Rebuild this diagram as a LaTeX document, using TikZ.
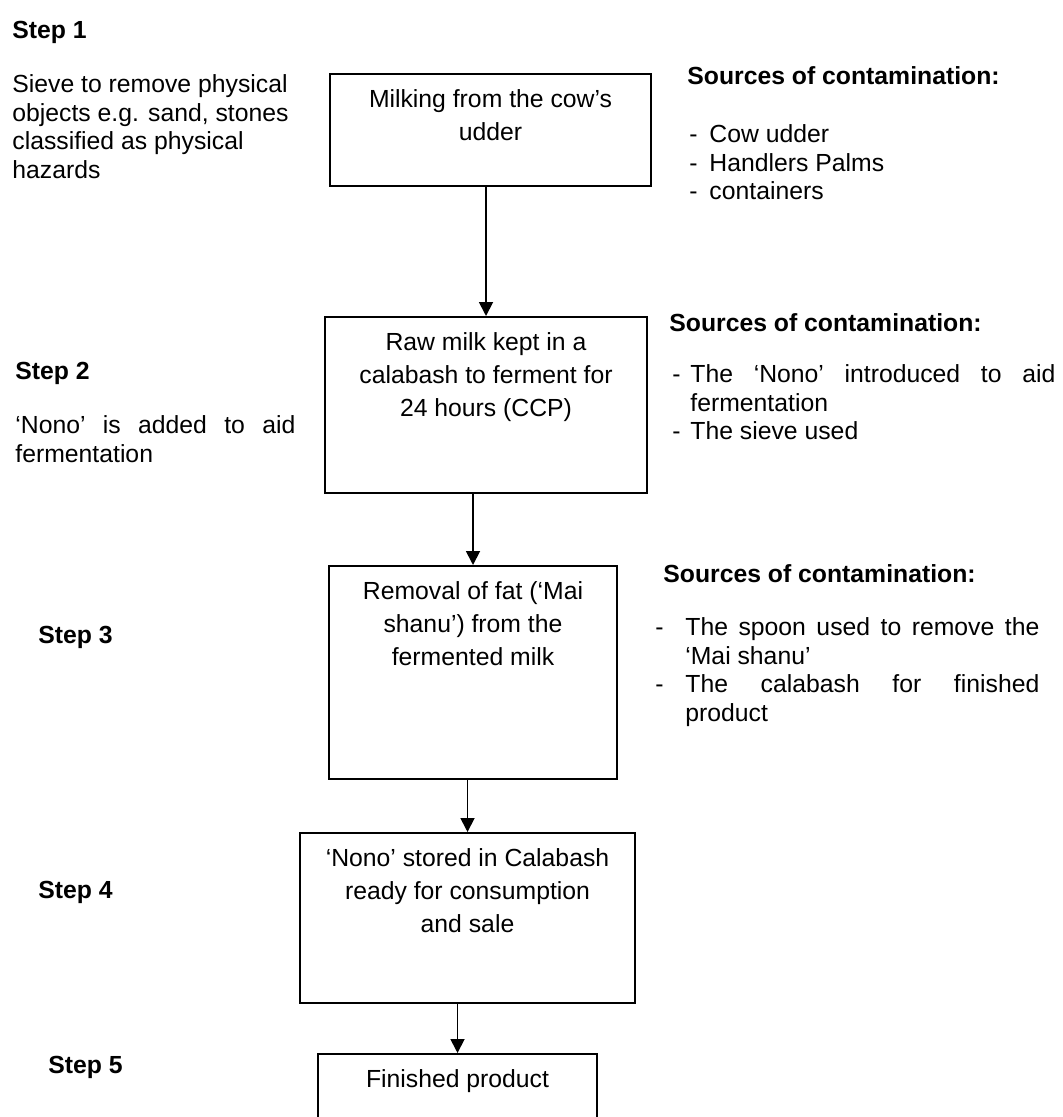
\documentclass[tikz,border=0pt]{standalone}
\usepackage{fontspec}
\setmainfont{Liberation Sans}
\usetikzlibrary{arrows.meta}

\begin{document}
\begin{tikzpicture}[x=0.4444pt, y=-0.4444pt, >={Triangle[length=6.2pt, width=6.2pt]},
        every node/.style={inner sep=0pt, font=\fontsize{11}{12.8}\selectfont},
        stage/.style={draw, line width=0.9pt, anchor=north west},
        stagetext/.style={anchor=north, yshift=-4.84pt, align=center, font=\fontsize{11}{14.67}\selectfont},
        steplabel/.style={anchor=base west, font=\fontsize{11}{12.8}\selectfont\bfseries},
        note/.style={anchor=north west, align=left},
        flow/.style={->, line width=0.8pt}]
        % ==== DEFINITIONS ====
        \def\pxu{0.4444pt} % one pixel of the page

        \useasboundingbox (0,0) rectangle (1062,1117);
        \clip (0,0) rectangle (1062,1117);

        % ==== STEP 1 ====
        \node[steplabel] (step1) at (12,38) {Step 1};
        \node[note] (step1txt) at (12,71.7) {\strut Sieve to remove physical\\objects e.g. sand, stones\\classified as physical\\hazards};
        \node[stage, minimum width=321*\pxu, minimum height=112*\pxu] (box1) at (329,73) {};
        \node[stagetext] (box1txt) at (box1.north) {\strut Milking from the cow's\\udder};
        \node[steplabel] (src1head) at (687,84) {Sources of contamination:};
        \node[note] (src1list) at (689,121.7) {\strut\makebox[8.9pt][l]{-}Cow udder\\\makebox[8.9pt][l]{-}Handlers Palms\\\makebox[8.9pt][l]{-}containers};

        % ==== STEP 2 ====
        \node[steplabel] (step2) at (15,379) {Step 2};
        \node[note] (step2txt) at (15,412.7) {\strut\makebox[124.4pt][s]{`Nono' is added to aid}\\fermentation};
        \node[stage, minimum width=322*\pxu, minimum height=176*\pxu] (box2) at (324,316) {};
        \node[stagetext] (box2txt) at (box2.north) {\strut Raw milk kept in a\\calabash to ferment for\\24 hours (CCP)};
        \node[steplabel] (src2head) at (669,331) {Sources of contamination:};
        \node[note] (src2list) at (672,361.7) {\strut\makebox[8pt][l]{-}\makebox[162.2pt][s]{The `Nono' introduced to aid}\\\hspace*{8pt}fermentation\\\makebox[8pt][l]{-}The sieve used};

        % ==== STEP 3 ====
        \node[steplabel] (step3) at (38,643) {Step 3};
        \node[stage, minimum width=288*\pxu, minimum height=213*\pxu] (box3) at (328,565) {};
        \node[stagetext] (box3txt) at (box3.north) {\strut Removal of fat (`Mai\\shanu') from the\\fermented milk};
        \node[steplabel] (src3head) at (663,582) {Sources of contamination:};
        \node[note] (src3list) at (655,614.7) {\strut\makebox[13.3pt][l]{-}\makebox[157.3pt][s]{The spoon used to remove the}\\\hspace*{13.3pt}`Mai shanu'\\\makebox[13.3pt][l]{-}\makebox[157.3pt][s]{The calabash for finished}\\\hspace*{13.3pt}product};

        % ==== STEP 4 ====
        \node[steplabel] (step4) at (38,898) {Step 4};
        \node[stage, minimum width=335*\pxu, minimum height=170*\pxu] (box4) at (299,832) {};
        \node[stagetext] (box4txt) at (box4.north) {\strut `Nono' stored in Calabash\\ready for consumption\\and sale};

        % ==== STEP 5 ====
        \node[steplabel] (step5) at (48,1073) {Step 5};
        \node[stage, minimum width=279*\pxu, minimum height=100*\pxu] (box5) at (317,1053) {};
        \node[stagetext] (box5txt) at (box5.north) {\strut Finished product};

        % ==== ARROWS ====
        \draw[flow] (box1.south -| box2.north) -- (box2.north);
        \draw[flow] (box2.south -| box3.north) -- (box3.north);
        \draw[flow] (box3.south -| box4.north) -- (box4.north);
        \draw[flow] (box4.south -| box5.north) -- (box5.north);
    \end{tikzpicture}
\end{document}
